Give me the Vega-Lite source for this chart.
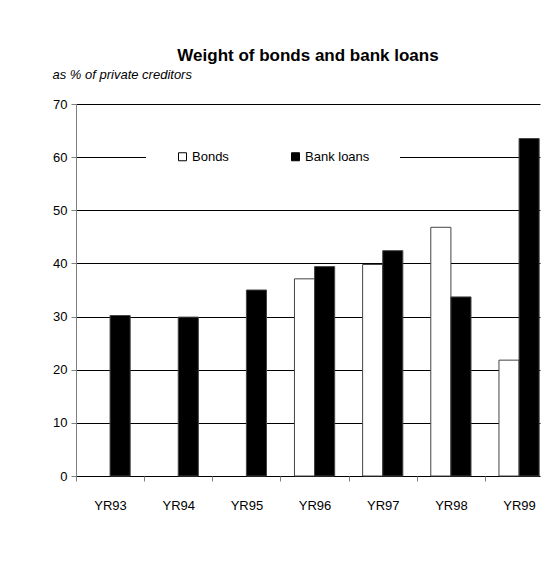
{
  "$schema": "https://vega.github.io/schema/vega-lite/v6.json",
  "width": 464,
  "height": 372,
  "autosize": "none",
  "padding": {"left": 76, "top": 104, "right": 15, "bottom": 85},
  "background": "white",
  "title": {
    "text": "Weight of bonds and bank loans",
    "font": "Liberation Sans",
    "fontSize": 17,
    "fontWeight": "bold",
    "color": "black",
    "anchor": "middle",
    "frame": "group",
    "offset": 3
  },
  "data": {
    "values": [
      {"year": "YR93", "series": "Bank loans", "value": 30.2},
      {"year": "YR94", "series": "Bank loans", "value": 29.9},
      {"year": "YR95", "series": "Bank loans", "value": 35.0},
      {"year": "YR96", "series": "Bonds", "value": 37.1},
      {"year": "YR96", "series": "Bank loans", "value": 39.4},
      {"year": "YR97", "series": "Bonds", "value": 39.8},
      {"year": "YR97", "series": "Bank loans", "value": 42.4},
      {"year": "YR98", "series": "Bonds", "value": 46.8},
      {"year": "YR98", "series": "Bank loans", "value": 33.7},
      {"year": "YR99", "series": "Bonds", "value": 21.8},
      {"year": "YR99", "series": "Bank loans", "value": 63.5}
    ]
  },
  "mark": {"type": "bar", "stroke": "#444", "strokeWidth": 1},
  "encoding": {
    "x": {
      "field": "year",
      "type": "nominal",
      "scale": {"paddingInner": 0.41, "paddingOuter": 0.1085, "align": 0.944},
      "axis": {
        "title": null,
        "labelAngle": 0,
        "labelFont": "Liberation Sans",
        "labelFontSize": 13,
        "labelColor": "black",
        "labelPadding": 18,
        "tickSize": 5,
        "tickColor": "#808080",
        "tickOffset": -34.07,
        "labelOffset": 34.07,
        "domain": false,
        "grid": false
      }
    },
    "xOffset": {
      "field": "series",
      "type": "nominal",
      "sort": ["Bonds", "Bank loans"],
      "scale": {"paddingInner": 0, "paddingOuter": 0}
    },
    "y": {
      "field": "value",
      "type": "quantitative",
      "scale": {"domain": [0, 70], "nice": false},
      "axis": {
        "title": "as % of private creditors",
        "titleFont": "Liberation Sans",
        "titleFontSize": 13,
        "titleFontStyle": "italic",
        "titleFontWeight": "normal",
        "titleColor": "black",
        "titleAngle": 0,
        "titleAlign": "left",
        "titleBaseline": "middle",
        "titleX": -24,
        "titleY": -30,
        "values": [0, 10, 20, 30, 40, 50, 60, 70],
        "labelFont": "Liberation Sans",
        "labelFontSize": 13,
        "labelColor": "black",
        "labelPadding": 4,
        "tickSize": 5,
        "tickColor": "#808080",
        "domainColor": "#808080",
        "grid": true,
        "gridColor": "black",
        "gridWidth": 1
      }
    },
    "color": {
      "field": "series",
      "type": "nominal",
      "scale": {"domain": ["Bonds", "Bank loans"], "range": ["white", "black"]},
      "legend": {
        "title": null,
        "orient": "none",
        "legendX": 70,
        "legendY": 16,
        "direction": "horizontal",
        "fillColor": "white",
        "padding": 30,
        "symbolType": "square",
        "symbolSize": 64,
        "symbolStrokeColor": "black",
        "symbolStrokeWidth": 1,
        "labelFont": "Liberation Sans",
        "labelFontSize": 13,
        "labelColor": "black",
        "labelOffset": 3,
        "columnPadding": 60
      }
    }
  },
  "config": {"view": {"stroke": null}}
}
